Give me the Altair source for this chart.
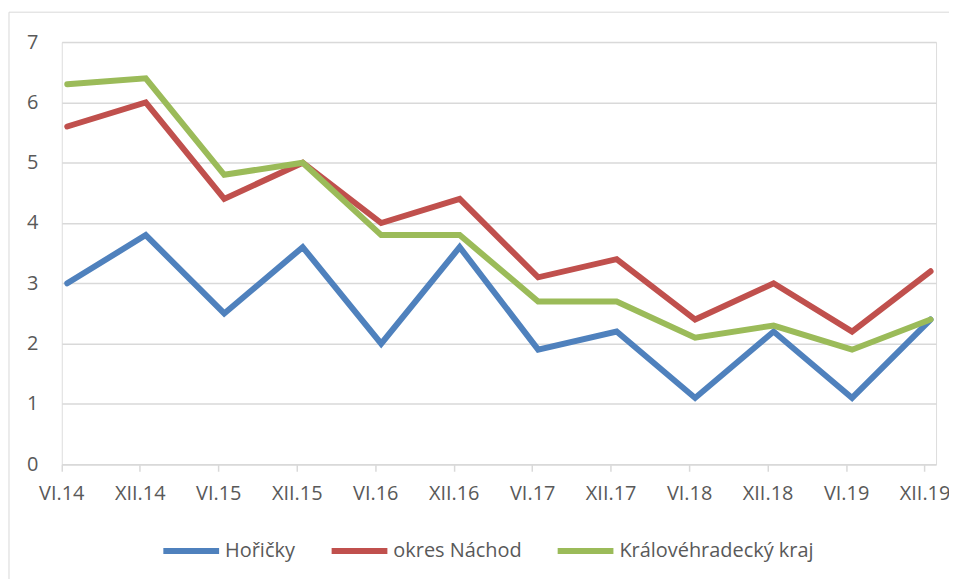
import altair as alt
import pandas as pd

periods = ["VI.14", "XII.14", "VI.15", "XII.15", "VI.16", "XII.16",
           "VI.17", "XII.17", "VI.18", "XII.18", "VI.19", "XII.19"]
series_names = ["Hořičky", "okres Náchod", "Královéhradecký kraj"]
horicky = [3.0, 3.8, 2.5, 3.6, 2.0, 3.6, 1.9, 2.2, 1.1, 2.2, 1.1, 2.4]
nachod = [5.6, 6.0, 4.4, 5.0, 4.0, 4.4, 3.1, 3.4, 2.4, 3.0, 2.2, 3.2]
kraj = [6.3, 6.4, 4.8, 5.0, 3.8, 3.8, 2.7, 2.7, 2.1, 2.3, 1.9, 2.4]
colors = ["#4F81BD", "#C0504D", "#9BBB59"]

rows = []
for name, vals in zip(series_names, [horicky, nachod, kraj]):
    for i, (p, v) in enumerate(zip(periods, vals)):
        rows.append({"period": p, "value": v, "series": name, "order": i})
df = pd.DataFrame(rows)

FONT = "Open Sans"
GRAY = "#d9d9d9"
TXT = "#595959"

lines = alt.Chart(df).mark_line(strokeWidth=6, strokeCap="round", strokeJoin="miter").encode(
    x=alt.X("period:N", sort=periods, title=None,
            scale=alt.Scale(type="point", padding=0.07),
            axis=alt.Axis(labelAngle=0, labelFontSize=20, labelColor=TXT, labelFont=FONT,
                          labelPadding=12, domainColor=GRAY, domainWidth=1.5,
                          tickColor=GRAY, tickSize=7, tickWidth=1.5, tickOffset=-6,
                          grid=False)),
    y=alt.Y("value:Q", title=None,
            scale=alt.Scale(domain=[0, 7], nice=False),
            axis=alt.Axis(values=[0, 1, 2, 3, 4, 5, 6, 7], labelFontSize=20, labelColor=TXT,
                          labelFont=FONT, labelPadding=24, domain=False, ticks=False,
                          gridColor=GRAY, gridWidth=1.5)),
    color=alt.Color("series:N", sort=series_names,
                    scale=alt.Scale(domain=series_names, range=colors),
                    legend=alt.Legend(title=None, orient="none", direction="horizontal",
                                      legendX=99, legendY=480,
                                      symbolType="stroke", symbolSize=3136,
                                      symbolStrokeWidth=6, labelFontSize=20,
                                      labelFont=FONT, labelColor=TXT, labelOffset=3,
                                      labelLimit=400, columnPadding=24)),
    order=alt.Order("order:Q"),
)

border_df = pd.DataFrame({"a": [0]})
top_border = alt.Chart(border_df).mark_rule(color=GRAY, strokeWidth=1).encode(
    x=alt.value(-53), x2=alt.value(900), y=alt.value(-30))
left_border = alt.Chart(border_df).mark_rule(color=GRAY, strokeWidth=1).encode(
    x=alt.value(-53), y=alt.value(-30), y2=alt.value(540))

chart = alt.layer(top_border, left_border, lines).properties(
    width=878, height=424,
    autosize=alt.AutoSizeParams(type="none"),
    padding={"left": 54, "top": 33, "right": 13, "bottom": 114},
).configure_view(stroke=None).configure(background="white")

chart.save("out.html", embed_options={"renderer": "svg", "actions": False})
